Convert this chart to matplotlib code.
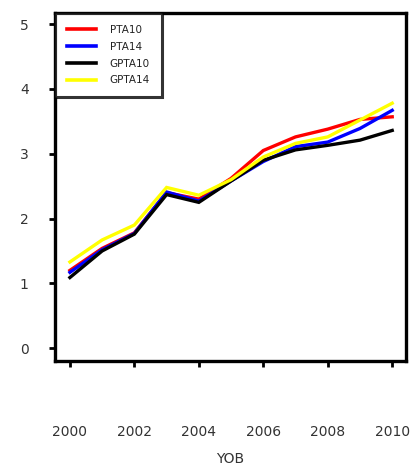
import matplotlib
matplotlib.use("Agg")
import matplotlib.pyplot as plt

years = [2000, 2001, 2002, 2003, 2004, 2005, 2006, 2007, 2008, 2009, 2010]
pta10 = [1.20, 1.54, 1.78, 2.40, 2.30, 2.62, 3.05, 3.26, 3.38, 3.53, 3.57]
pta14 = [1.17, 1.52, 1.77, 2.41, 2.27, 2.58, 2.88, 3.11, 3.18, 3.39, 3.67]
gpta10 = [1.09, 1.50, 1.76, 2.37, 2.25, 2.58, 2.90, 3.06, 3.13, 3.21, 3.36]
gpta14 = [1.33, 1.67, 1.90, 2.48, 2.36, 2.60, 2.95, 3.16, 3.26, 3.52, 3.78]

series = [("PTA10", pta10, "#ff0000"),
          ("PTA14", pta14, "#0000ff"),
          ("GPTA10", gpta10, "#000000"),
          ("GPTA14", gpta14, "#ffff00")]

fig = plt.figure(figsize=(4.11, 4.69), dpi=100)
ax = fig.add_axes([0.134, 0.230, 0.854, 0.742])

for name, vals, color in series:
    ax.plot(years, vals, color=color, lw=2.4, label=name, solid_joinstyle="miter")

ax.set_xlim(1999.54, 2010.43)
ax.set_ylim(-0.2, 5.17)
ax.set_xticks([2000, 2002, 2004, 2006, 2008, 2010])
ax.set_yticks([0, 1, 2, 3, 4, 5])

for side in ax.spines.values():
    side.set_linewidth(2.4)

ax.tick_params(axis="x", direction="out", length=4, width=2, pad=42,
               labelsize=10, labelcolor="#333333")
ax.tick_params(axis="y", direction="out", length=4, width=2, pad=15,
               labelsize=10, labelcolor="#333333")
ax.set_xlabel("YOB", fontsize=10, color="#333333", labelpad=9)

leg = ax.legend(loc="upper left", fontsize=7.5, frameon=True, fancybox=False,
                borderaxespad=0.0, handlelength=2.8, handletextpad=1.3,
                labelspacing=0.65, borderpad=1.15)
leg.get_frame().set_edgecolor("black")
leg.get_frame().set_linewidth(2.2)
for line in leg.get_lines():
    line.set_linewidth(2.6)
for txt in leg.get_texts():
    txt.set_color("#222222")

fig.savefig("out.png", dpi=100)
